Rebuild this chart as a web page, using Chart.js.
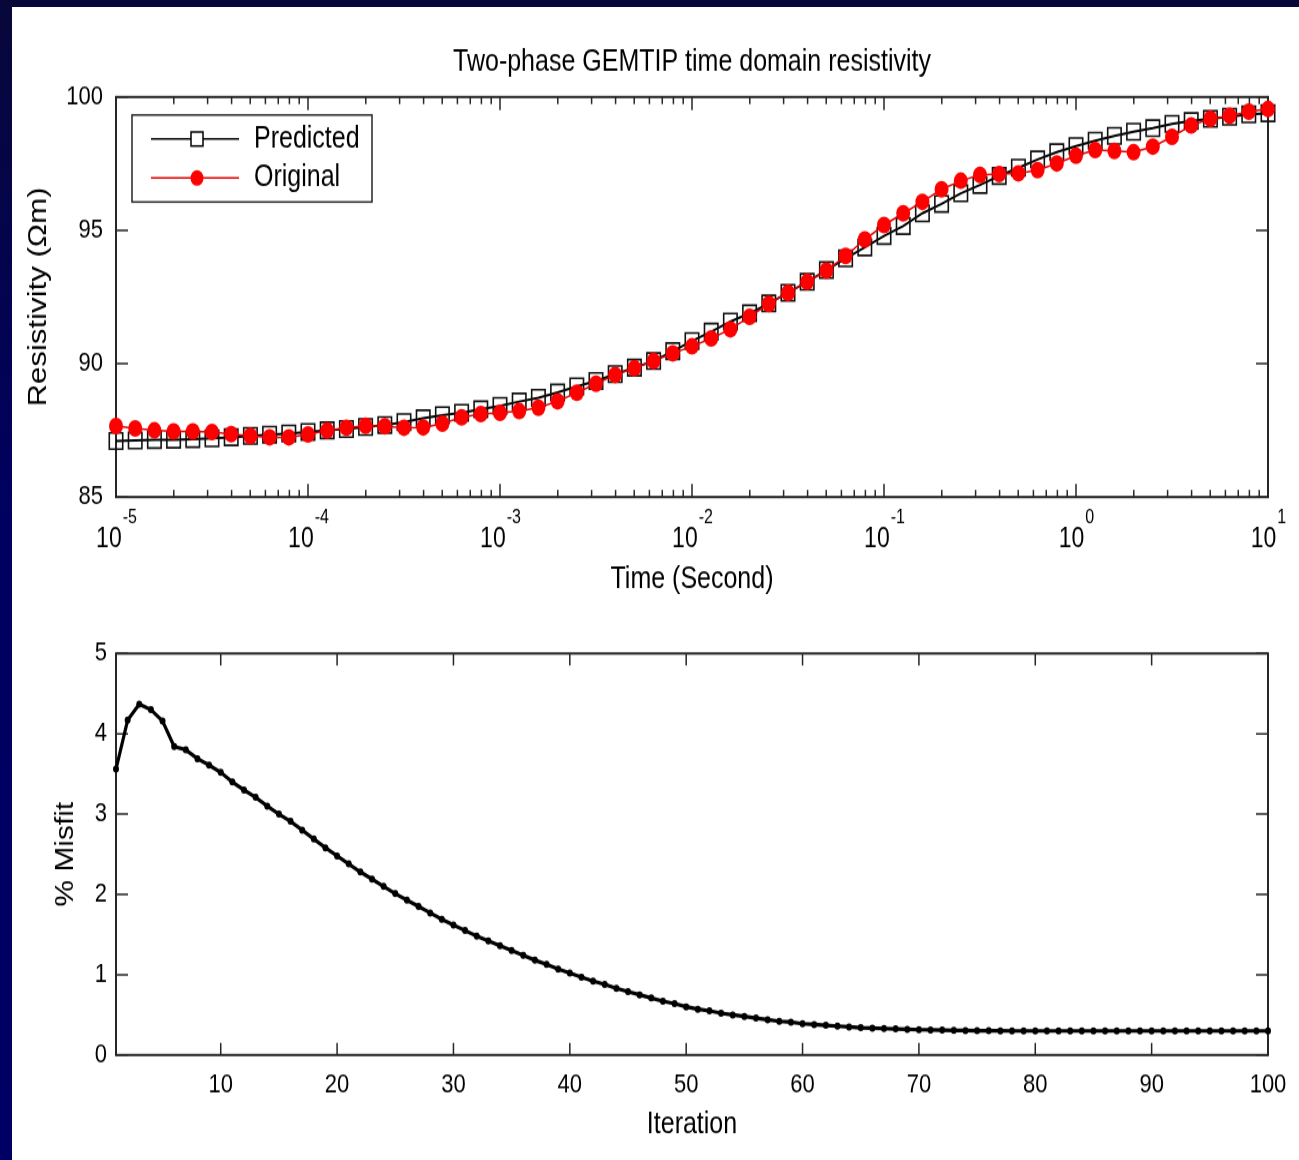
<!DOCTYPE html>
<html>
<head>
<meta charset="utf-8">
<script src="https://cdn.jsdelivr.net/npm/chart.js@4.4.1/dist/chart.umd.min.js"></script>
<style>
  html, body { margin: 0; padding: 0; }
  body {
    width: 1299px; height: 1160px; overflow: hidden; position: relative;
    background: linear-gradient(#07073a 0%, #000060 45%, #000064 100%);
  }
  #sheet { position: absolute; left: 12px; top: 7px; width: 1287px; height: 1153px; background: #fff; }
  /* the figure is drawn with tall, narrow text: render short and stretch vertically */
  canvas { position: absolute; left: 0; transform: scaleY(1.2); transform-origin: 0 0; }
  #resChart { top: 0; }
  #misfitChart { top: 610px; }
</style>
</head>
<body>
<div id="sheet"></div>
<canvas id="resChart" width="1299" height="508"></canvas>
<canvas id="misfitChart" width="1299" height="458"></canvas>
<script>
// sample times (s), 10 per decade
const times = [
  1.000e-5, 1.259e-5, 1.585e-5, 1.995e-5, 2.512e-5, 3.162e-5, 3.981e-5, 5.012e-5, 6.310e-5, 7.943e-5,
  1.000e-4, 1.259e-4, 1.585e-4, 1.995e-4, 2.512e-4, 3.162e-4, 3.981e-4, 5.012e-4, 6.310e-4, 7.943e-4,
  1.000e-3, 1.259e-3, 1.585e-3, 1.995e-3, 2.512e-3, 3.162e-3, 3.981e-3, 5.012e-3, 6.310e-3, 7.943e-3,
  1.000e-2, 1.259e-2, 1.585e-2, 1.995e-2, 2.512e-2, 3.162e-2, 3.981e-2, 5.012e-2, 6.310e-2, 7.943e-2,
  1.000e-1, 1.259e-1, 1.585e-1, 1.995e-1, 2.512e-1, 3.162e-1, 3.981e-1, 5.012e-1, 6.310e-1, 7.943e-1,
  1.000, 1.259, 1.585, 1.995, 2.512, 3.162, 3.981, 5.012, 6.310, 7.943,
  10.00
];

const predicted = [
  87.10, 87.12, 87.14, 87.15, 87.17, 87.20, 87.24, 87.29, 87.34, 87.38,
  87.44, 87.50, 87.55, 87.63, 87.70, 87.81, 87.95, 88.07, 88.16, 88.29,
  88.42, 88.58, 88.72, 88.92, 89.15, 89.35, 89.61, 89.85, 90.10, 90.47,
  90.85, 91.20, 91.58, 91.89, 92.26, 92.66, 93.07, 93.51, 93.95, 94.36,
  94.79, 95.16, 95.64, 95.99, 96.39, 96.70, 97.04, 97.35, 97.66, 97.93,
  98.16, 98.36, 98.54, 98.70, 98.83, 98.99, 99.10, 99.18, 99.26, 99.35,
  99.39
];

const original = [
  87.66, 87.57, 87.50, 87.46, 87.46, 87.44, 87.36, 87.29, 87.24, 87.24,
  87.35, 87.49, 87.60, 87.67, 87.65, 87.60, 87.61, 87.75, 87.99, 88.11,
  88.16, 88.22, 88.35, 88.59, 88.91, 89.25, 89.58, 89.83, 90.10, 90.39,
  90.65, 90.95, 91.29, 91.76, 92.24, 92.66, 93.07, 93.49, 94.04, 94.66,
  95.20, 95.64, 96.07, 96.54, 96.86, 97.08, 97.11, 97.14, 97.26, 97.51,
  97.80, 98.01, 97.98, 97.93, 98.14, 98.51, 98.93, 99.18, 99.30, 99.45,
  99.55
];

// % misfit per iteration (1..100)
const misfit = [
  3.56, 4.17, 4.37, 4.30, 4.16, 3.84, 3.80, 3.69, 3.61, 3.52,
  3.40, 3.30, 3.21, 3.10, 3.00, 2.91, 2.80, 2.69, 2.58, 2.48,
  2.38, 2.28, 2.19, 2.10, 2.01, 1.93, 1.85, 1.77, 1.69, 1.62,
  1.55, 1.48, 1.42, 1.36, 1.30, 1.24, 1.18, 1.13, 1.07, 1.02,
  0.97, 0.92, 0.88, 0.83, 0.79, 0.75, 0.71, 0.67, 0.64, 0.60,
  0.57, 0.55, 0.52, 0.50, 0.48, 0.46, 0.44, 0.42, 0.41, 0.39,
  0.38, 0.37, 0.36, 0.35, 0.34, 0.335, 0.33, 0.325, 0.32, 0.315,
  0.312, 0.31, 0.307, 0.305, 0.303, 0.302, 0.301, 0.30, 0.30, 0.30,
  0.30, 0.30, 0.30, 0.30, 0.30, 0.30, 0.30, 0.30, 0.30, 0.30,
  0.30, 0.30, 0.30, 0.30, 0.30, 0.30, 0.30, 0.30, 0.30, 0.30
];
const iterations = misfit.map((_, i) => i + 1);

const decadeExps = [-5, -4, -3, -2, -1, 0, 1];
const minorSteps = [2, 3, 4, 5, 6, 7, 8, 9];
const resTicks = [85, 90, 95, 100];
const misfitTicks = [0, 1, 2, 3, 4, 5];
const iterTicks = [10, 20, 30, 40, 50, 60, 70, 80, 90, 100];

// vertical stretch applied by CSS; v() turns a page pixel height into canvas pixels
const S = 1.2;
const v = px => px / S;

const FONT = '"Liberation Sans", Arial, sans-serif';
Chart.defaults.font.family = FONT;
Chart.defaults.color = '#000';

// MATLAB-like box with inward ticks on all four sides
const boxTicks = {
  id: 'boxTicks',
  beforeDatasetsDraw(chart, args, opts) {
    const { ctx, chartArea: a, scales } = chart;
    ctx.save();
    ctx.strokeStyle = '#262626';
    ctx.lineWidth = 1.5;
    ctx.beginPath();
    scales.x.ticks.forEach(t => {
      const px = scales.x.getPixelForValue(t.value);
      const len = v(t.major === false ? opts.minorX : opts.majorX);
      ctx.moveTo(px, a.bottom); ctx.lineTo(px, a.bottom - len);
      ctx.moveTo(px, a.top); ctx.lineTo(px, a.top + len);
    });
    scales.y.ticks.forEach(t => {
      const py = scales.y.getPixelForValue(t.value);
      ctx.moveTo(a.left, py); ctx.lineTo(a.left + opts.majorY, py);
      ctx.moveTo(a.right, py); ctx.lineTo(a.right - opts.majorY, py);
    });
    ctx.stroke();
    ctx.lineWidth = 2;
    ctx.strokeRect(a.left, a.top, a.right - a.left, a.bottom - a.top);
    ctx.restore();
  }
};

// 10^n labels under the log axis
const powerLabels = {
  id: 'powerLabels',
  afterDraw(chart) {
    const { ctx, scales } = chart;
    const baseY = scales.x.top + v(43);
    ctx.save();
    ctx.fillStyle = '#000';
    ctx.textBaseline = 'middle';
    ctx.textAlign = 'left';
    decadeExps.forEach(e => {
      const px = scales.x.getPixelForValue(Math.pow(10, e));
      ctx.font = '23px ' + FONT;
      const wb = ctx.measureText('10').width;
      ctx.font = '16px ' + FONT;
      const we = ctx.measureText(String(e)).width;
      const x0 = px - (wb + we) / 2;
      ctx.font = '23px ' + FONT;
      ctx.fillText('10', x0, baseY);
      ctx.font = '16px ' + FONT;
      ctx.fillText(String(e), x0 + wb + 1, baseY - v(22));
    });
    ctx.restore();
  }
};

// legend box in the upper left of the axes
const boxLegend = {
  id: 'boxLegend',
  afterDraw(chart) {
    const { ctx, chartArea: a } = chart;
    const x = a.left + 16, y = a.top + v(18), w = 240, h = v(87);
    ctx.save();
    ctx.fillStyle = '#fff';
    ctx.fillRect(x, y, w, h);
    ctx.strokeStyle = '#262626';
    ctx.lineWidth = 1.5;
    ctx.strokeRect(x, y, w, h);
    const rows = [
      { text: 'Predicted', line: '#000', y: y + v(24) },
      { text: 'Original', line: '#e00000', y: y + v(63) }
    ];
    rows.forEach((r, k) => {
      ctx.strokeStyle = r.line;
      ctx.lineWidth = 1.5;
      ctx.beginPath();
      ctx.moveTo(x + 19, r.y); ctx.lineTo(x + 107, r.y);
      ctx.stroke();
      if (k === 0) {
        ctx.fillStyle = '#fff';
        ctx.fillRect(x + 59, r.y - v(7), 12, v(14));
        ctx.strokeStyle = '#000';
        ctx.strokeRect(x + 59, r.y - v(7), 12, v(14));
      } else {
        ctx.fillStyle = '#ff0000';
        ctx.beginPath();
        ctx.arc(x + 65, r.y, 6.5, 0, Math.PI * 2);
        ctx.fill();
      }
      ctx.fillStyle = '#000';
      ctx.font = '25px ' + FONT;
      ctx.textBaseline = 'middle';
      ctx.fillText(r.text, x + 122, r.y);
    });
    ctx.restore();
  }
};

new Chart(document.getElementById('resChart'), {
  type: 'line',
  data: {
    datasets: [
      {
        label: 'Original',
        data: times.map((t, i) => ({ x: t, y: original[i] })),
        order: 1,
        borderColor: '#e00000',
        borderWidth: 1.5,
        pointStyle: 'circle',
        pointRadius: 7,
        pointBackgroundColor: '#ff0000',
        pointBorderColor: '#ff0000',
        pointBorderWidth: 0,
        tension: 0,
        clip: false
      },
      {
        label: 'Predicted',
        data: times.map((t, i) => ({ x: t, y: predicted[i] })),
        order: 2,
        borderColor: '#000',
        borderWidth: 2,
        pointStyle: 'rect',
        pointRadius: 9.5,
        pointBackgroundColor: 'rgba(0,0,0,0)',
        pointBorderColor: '#111',
        pointBorderWidth: 1.6,
        tension: 0,
        clip: false
      }
    ]
  },
  options: {
    responsive: false,
    animation: false,
    events: [],
    layout: { padding: { left: 20, right: 31, top: 0, bottom: 0 } },
    scales: {
      x: {
        type: 'logarithmic',
        min: 1e-5,
        max: 10,
        afterBuildTicks: s => {
          const ticks = [];
          decadeExps.forEach((e, k) => {
            ticks.push({ value: Math.pow(10, e), major: true });
            if (k < decadeExps.length - 1) {
              minorSteps.forEach(m => ticks.push({ value: m * Math.pow(10, e), major: false }));
            }
          });
          s.ticks = ticks;
        },
        afterFit: s => { s.height = 508 - v(497); },
        ticks: { display: false },
        grid: { display: false, drawTicks: false },
        border: { display: false },
        title: { display: true, text: 'Time (Second)', font: { size: 25 }, padding: { top: 0, bottom: 508 - v(580) - 15 } }
      },
      y: {
        min: 85,
        max: 100,
        afterBuildTicks: s => { s.ticks = resTicks.map(val => ({ value: val })); },
        afterFit: s => { s.width = 96; },
        ticks: { padding: 13, font: { size: 22 } },
        grid: { display: false, drawTicks: false },
        border: { display: false },
        title: { display: true, text: 'Resistivity (Ωm)', font: { size: 26 }, padding: { top: 3, bottom: 0 } }
      }
    },
    plugins: {
      legend: { display: false },
      tooltip: { enabled: false },
      title: {
        display: true,
        fullSize: false,
        text: 'Two-phase GEMTIP time domain resistivity',
        font: { size: 25, weight: 'normal' },
        color: '#000',
        padding: { top: v(62) - 15, bottom: v(97) - v(62) - 15 }
      },
      boxTicks: { majorX: 13, minorX: 7, majorY: 12 }
    }
  },
  plugins: [boxTicks, powerLabels, boxLegend]
});

new Chart(document.getElementById('misfitChart'), {
  type: 'line',
  data: {
    datasets: [{
      label: '% Misfit',
      data: iterations.map((n, i) => ({ x: n, y: misfit[i] })),
      borderColor: '#000',
      borderWidth: 3.2,
      pointRadius: 3,
      pointBackgroundColor: '#000',
      pointBorderColor: '#000',
      pointBorderWidth: 0,
      tension: 0,
      clip: false
    }]
  },
  options: {
    responsive: false,
    animation: false,
    events: [],
    layout: { padding: { left: 20, right: 31, top: v(43.5), bottom: 0 } },
    scales: {
      x: {
        type: 'linear',
        min: 1,
        max: 100,
        afterBuildTicks: s => { s.ticks = iterTicks.map(val => ({ value: val })); },
        afterFit: s => { s.height = 458 - v(445); },
        ticks: { padding: v(475) - v(445) - 13.2, font: { size: 22 }, maxRotation: 0 },
        grid: { display: false, drawTicks: false },
        border: { display: false },
        title: { display: true, text: 'Iteration', font: { size: 25 }, padding: { top: 0, bottom: 458 - v(515) - 15 } }
      },
      y: {
        min: 0,
        max: 5,
        afterBuildTicks: s => { s.ticks = misfitTicks.map(val => ({ value: val })); },
        afterFit: s => { s.width = 96; },
        ticks: { padding: 9, font: { size: 22 } },
        grid: { display: false, drawTicks: false },
        border: { display: false },
        title: { display: true, text: '% Misfit', font: { size: 25 }, padding: { top: 31, bottom: 0 } }
      }
    },
    plugins: {
      legend: { display: false },
      tooltip: { enabled: false },
      boxTicks: { majorX: 12, minorX: 12, majorY: 12 }
    }
  },
  plugins: [boxTicks]
});
</script>
</body>
</html>
